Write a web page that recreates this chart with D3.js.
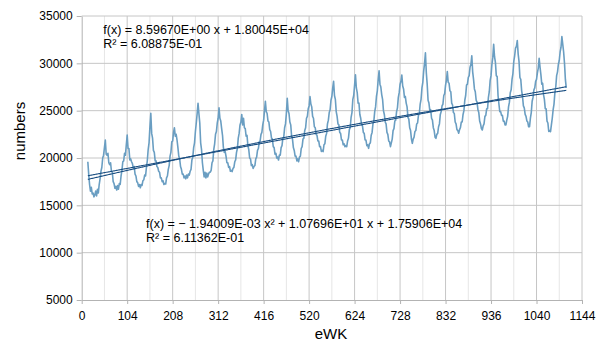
<!DOCTYPE html>
<html>
<head>
<meta charset="utf-8">
<script src="https://cdn.jsdelivr.net/npm/d3@7"></script>
<style>
  body { margin: 0; background: #fff; }
  svg { display: block; }
  text { font-family: "Liberation Sans", Arial, sans-serif; fill: #000; }
</style>
</head>
<body>
<svg id="chart" width="601" height="343"></svg>
<script>
// weekly series, sampled every 2 weeks starting at week 14
const weekStart = 14;
const weekStep = 2;
const numbers = [
  19600,18300,17200,16500,16900,16200,16300,15900,16100,16500,16000,16700,16300,17200,17800,18600,19000,20000,20300,21100,21900,20400,20300,20500,19500,19300,
  19500,18600,18500,17500,17300,16800,17000,16620,17100,16700,17300,17200,18100,18700,19600,19700,20500,20300,21400,22430,21000,21000,19800,19900,19600,19400,
  18900,19100,18300,18100,17500,17400,17000,17200,16850,17200,17100,17600,17700,18200,18100,19000,19700,20900,21600,23300,24720,22600,22100,20800,20600,19700,
  19700,19100,19000,18600,18500,17900,17900,17500,17600,17200,17300,17250,17900,18100,18800,19200,20200,20600,21700,21800,22700,23200,22300,22500,21900,21100,
  20200,19900,19100,18800,18300,18300,17900,18100,17800,18200,17900,18300,18200,18600,18800,19800,20100,21100,21600,22800,23700,24700,25780,24700,23700,21600,
  20900,19500,18700,18000,18500,17900,18400,18000,18300,18500,18500,18700,19500,19700,20900,21500,22500,22800,23700,24200,25300,24200,23900,23100,22400,21100,
  20600,20700,20200,19500,19500,19000,19100,18600,18700,18560,18900,19000,19600,19800,20600,21000,22100,22600,23500,23800,24600,23500,24200,23200,23100,22300,
  22400,21300,20900,20000,19900,19200,19300,18900,19100,19200,19900,20100,20800,21000,21700,21800,22500,22700,23500,24000,25000,26000,24900,24700,23900,23800,
  23000,22800,22100,22000,21200,21100,20400,20500,20000,20100,19790,20300,20300,21100,21300,22100,22200,23200,23600,24700,26310,25000,24700,23800,23500,22300,
  22000,21100,20800,20200,20200,19700,19900,19610,20100,20200,21000,21200,22000,22100,22900,23200,24200,24400,25200,25500,26500,25700,25400,24400,24200,23300,
  23200,22500,22400,21800,21800,21200,21200,20700,20800,20670,21400,21500,22300,22600,23600,24000,24800,25100,26100,26500,27400,28100,26600,26200,24900,24400,
  23600,23500,22700,22600,21900,21900,21400,21500,21200,21300,21200,21800,22100,23000,23200,24300,24800,26200,26600,27700,28800,27400,26900,25800,25800,24600,
  24200,23500,23400,22700,22600,21900,21900,21300,21400,21020,21500,21600,22400,22700,23600,23900,24900,25400,26500,27100,28300,29220,27800,27500,26700,26200,
  25000,24600,23800,23600,22700,22500,21800,21700,21200,21600,22000,22900,23100,23900,24000,24900,25300,26400,26900,27800,28100,28770,27600,27300,26400,26500,
  25800,25400,24300,24100,23200,22900,22000,21550,22000,22200,22800,22900,23600,23700,24500,24700,25700,26200,27400,28000,29200,30000,31100,29000,27800,26100,
  25800,25000,25100,24200,24000,23200,22900,22200,22080,22500,22600,23300,23600,24600,24900,25500,25700,26600,26800,27700,28200,29120,28000,27900,27100,27000,
  25800,25600,24800,24700,23800,23600,23000,22900,22610,23000,23200,23800,23800,24600,25000,26100,26600,27700,27800,28500,28700,29600,29900,30800,29100,28300,
  27300,27000,26100,25900,25100,24800,23900,23600,23100,22960,23400,23600,24400,24500,25200,25200,26400,27000,28200,28700,29900,30600,32000,30700,30100,28700,
  28600,26600,25700,24900,24900,24500,24500,23900,23900,23500,23490,24000,24400,25400,25900,26900,27200,28300,28900,30200,30800,31600,31800,32400,31000,30200,
  28500,28300,27100,26500,25500,25300,24600,24400,23900,23800,23300,23310,24200,24800,26000,26400,27200,27400,28100,28300,29000,29500,30530,29600,28800,27800,
  27900,26700,26200,25200,25200,23900,23700,22800,22900,22780,23500,24200,25100,25700,26900,27500,28700,29100,29900,30300,31200,31700,32820,32000,31200,30000,
  28300,27400
];

// trend lines as printed on the chart
const linearCoef = [8.59670, 1.80045e4];
const quadCoef = [-1.94009e-3, 1.07696e1, 1.75906e4];
const linearLabel = ["f(x) = 8.59670E+00 x + 1.80045E+04", "R² = 6.08875E-01"];
const quadLabel = ["f(x) = − 1.94009E-03 x² + 1.07696E+01 x + 1.75906E+04", "R² = 6.11362E-01"];

const xTicks = [0, 104, 208, 312, 416, 520, 624, 728, 832, 936, 1040, 1144];
const yTicks = [5000, 10000, 15000, 20000, 25000, 30000, 35000];

const svg = d3.select("#chart");

const x = d3.scaleLinear().domain([0, 1144]).range([81.7, 582]);
const y = d3.scaleLinear().domain([5000, 35000]).range([300, 16]);

const weeks = numbers.map((d, i) => weekStart + i * weekStep);
const data = weeks.map((w, i) => [w, numbers[i]]);

// grid
const xMinor = xTicks.slice(1).map(t => t - 52);
svg.append("g").selectAll("line").data(xMinor).join("line")
  .attr("x1", d => x(d)).attr("x2", d => x(d))
  .attr("y1", y(35000)).attr("y2", y(5000))
  .attr("stroke", "#e6e6e6").attr("stroke-width", 1);

svg.append("g").selectAll("line").data(xTicks.slice(1)).join("line")
  .attr("x1", d => x(d)).attr("x2", d => x(d))
  .attr("y1", y(35000)).attr("y2", y(5000))
  .attr("stroke", "#c6c6c6").attr("stroke-width", 1);

svg.append("g").selectAll("line").data(yTicks.slice(1)).join("line")
  .attr("x1", x(0)).attr("x2", x(1144))
  .attr("y1", d => y(d)).attr("y2", d => y(d))
  .attr("stroke", "#c6c6c6").attr("stroke-width", 1);

// axes
const fmt = d3.format("d");
const yAxis = svg.append("g")
  .attr("transform", `translate(${x(0)},0)`)
  .call(d3.axisLeft(y).tickValues(yTicks).tickFormat(fmt).tickSize(5).tickSizeOuter(0).tickPadding(4));
const xAxis = svg.append("g")
  .attr("transform", `translate(0,${y(5000)})`)
  .call(d3.axisBottom(x).tickValues(xTicks).tickFormat(fmt).tickSize(4).tickSizeOuter(0).tickPadding(7));
[yAxis, xAxis].forEach(g => {
  g.select(".domain").attr("stroke", "#b3b3b3");
  g.selectAll(".tick line").attr("stroke", "#b3b3b3");
  g.selectAll(".tick text").attr("fill", "#000")
    .style("font-family", '"Liberation Sans", Arial, sans-serif').style("font-size", "12px");
});

// series
const line = d3.line().x(d => x(d[0])).y(d => y(d[1]));
svg.append("path").datum(data)
  .attr("fill", "none").attr("stroke", "#6a9ec2").attr("stroke-width", 1.6)
  .attr("stroke-linejoin", "round").attr("d", line);

// trend lines
const linFit = weeks.map(w => [w, linearCoef[0] * w + linearCoef[1]]);
const quadFit = weeks.map(w => [w, quadCoef[0] * w * w + quadCoef[1] * w + quadCoef[2]]);
[linFit, quadFit].forEach(f => {
  svg.append("path").datum(f)
    .attr("fill", "none").attr("stroke", "#1b4f82").attr("stroke-width", 1.1)
    .attr("d", line);
});

// equation labels
function label(lines, lx, ly) {
  const t = svg.append("text").attr("x", lx).attr("y", ly).style("font-size", "12.5px");
  lines.forEach((s, i) => t.append("tspan").attr("x", lx).attr("dy", i ? 14.2 : 0).text(s));
}
label(linearLabel, 103.3, 33.7);
label(quadLabel, 146, 228);

// axis titles
svg.append("text").attr("transform", "translate(25,131) rotate(-90)")
  .attr("text-anchor", "middle").style("font-size", "15px").text("numbers");
svg.append("text").attr("x", 331).attr("y", 339)
  .attr("text-anchor", "middle").style("font-size", "15px").text("eWK");
</script>
</body>
</html>
